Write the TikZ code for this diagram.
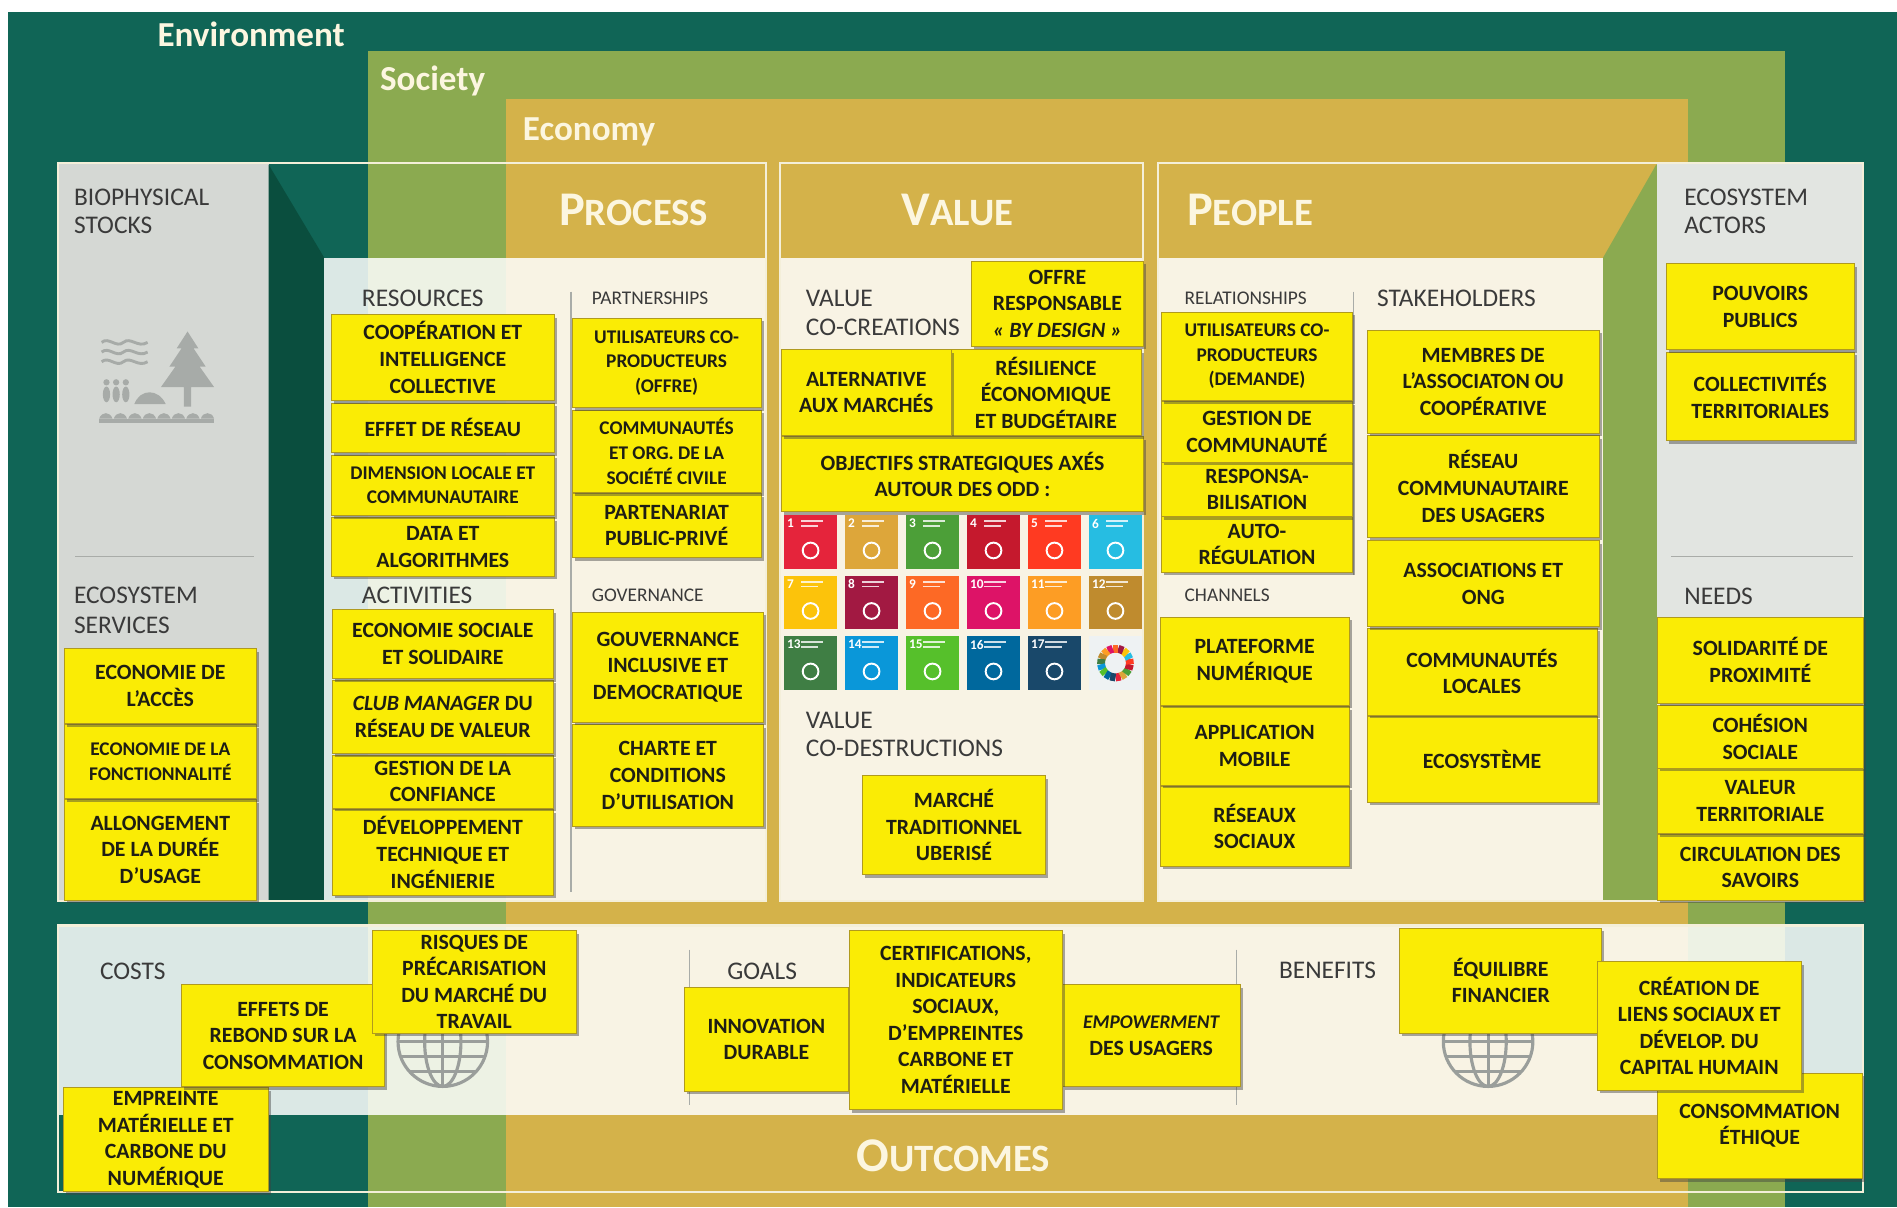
\documentclass[tikz,border=0pt]{standalone}
\usepackage{fontspec}
\setmainfont{Carlito}
\usetikzlibrary{shadows}

% layer and panel colours
\definecolor{envgreen}{HTML}{106556}
\definecolor{envdark}{HTML}{0A4E3E}
\definecolor{socgreen}{HTML}{8BAA50}
\definecolor{econ}{HTML}{D4B24A}
\definecolor{paneline}{HTML}{F4EFD9}
\definecolor{greypanel}{HTML}{D5D8D4}
\definecolor{greypanelr}{HTML}{E2E5E1}
\definecolor{yfill}{HTML}{FAEC05}
\definecolor{yborder}{HTML}{B09A1E}
\definecolor{ytext}{HTML}{1E1E14}
\definecolor{labeltext}{HTML}{3A3A3A}
\definecolor{headtext}{HTML}{FCF6E0}
\definecolor{icongrey}{HTML}{A7ABA8}
\definecolor{globegrey}{HTML}{9A9E9B}
\definecolor{sepgrey}{HTML}{A9ACA8}
% SDG palette
\definecolor{sdg1}{HTML}{E5243B}
\definecolor{sdg2}{HTML}{DDA63A}
\definecolor{sdg3}{HTML}{4C9F38}
\definecolor{sdg4}{HTML}{C5192D}
\definecolor{sdg5}{HTML}{FF3A21}
\definecolor{sdg6}{HTML}{26BDE2}
\definecolor{sdg7}{HTML}{FCC30B}
\definecolor{sdg8}{HTML}{A21942}
\definecolor{sdg9}{HTML}{FD6925}
\definecolor{sdg10}{HTML}{DD1367}
\definecolor{sdg11}{HTML}{FD9D24}
\definecolor{sdg12}{HTML}{BF8B2E}
\definecolor{sdg13}{HTML}{3F7E44}
\definecolor{sdg14}{HTML}{0A97D9}
\definecolor{sdg15}{HTML}{56C02B}
\definecolor{sdg16}{HTML}{00689D}
\definecolor{sdg17}{HTML}{19486A}
\definecolor{wheelbg}{HTML}{EEF2F3}

\tikzset{
  ybox/.style={draw=yborder, line width=0.6pt, fill=yfill, text=ytext, align=center,
    inner sep=0pt, font=\bfseries\fontsize{18}{22}\selectfont,
    drop shadow={shadow xshift=2.2pt, shadow yshift=-2.6pt, opacity=0.45, fill=black!75}},
  ysmall/.style={font=\bfseries\fontsize{16}{20.5}\selectfont},
  seclabel/.style={anchor=base west, inner sep=0pt, text=labeltext, font=\fontsize{21}{25}\selectfont},
  subsec/.style={anchor=base west, inner sep=0pt, text=labeltext, font=\fontsize{16}{19}\selectfont},
  layerlabel/.style={anchor=base west, inner sep=0pt, text=headtext, font=\bfseries\fontsize{29}{34}\selectfont},
  headlabel/.style={anchor=base west, inner sep=0pt, text=headtext, font=\bfseries},
  panelframe/.style={draw=paneline, line width=1.8pt},
  sepline/.style={draw=sepgrey, line width=0.9pt},
  lightpane/.style={fill=white, fill opacity=0.85},
}

% yellow sticky note given by its corners: name, x1, y1, x2, y2, text
\newcommand\ybx[7][]{%
  \node[ybox, minimum width={#5pt-#3pt}, minimum height={#6pt-#4pt}, #1]
    (#2) at ({(#3+#5)/2},{(#4+#6)/2}) {#7};}

% header word set in small capitals
\newcommand\scword[2]{{\fontsize{40}{40}\selectfont #1}{\fontsize{32}{32}\selectfont #2}}

% wire-frame globe
\newcommand\drawglobe[2]{%
  \begin{scope}[shift={(#1,#2)}, globegrey, line width=2.6pt]
    \draw (0,0) circle[radius=37];
    \draw (0,0) ellipse[x radius=15, y radius=37];
    \draw (0,-37) -- (0,37);
    \draw (-35,12) -- (35,12);
    \draw (-28,25) -- (28,25);
    \draw (-37,0) -- (37,0);
  \end{scope}}

\begin{document}
\begin{tikzpicture}[x=1pt,y=-1pt]
\useasboundingbox (0,0) rectangle (1568,998);
\fill[white] (0,0) rectangle (1568,998);

% nested layers: environment, society, economy
\fill[envgreen] (7,10) rectangle (1568,998);
\fill[socgreen] (304,42) rectangle (1475,998);
\fill[econ] (418,82) rectangle (1395,998);

\node[layerlabel] (envlbl) at (130,38.5) {Environment};
\node[layerlabel] (soclbl) at (314,74.5) {Society};
\node[layerlabel] (ecolbl) at (432,116) {Economy};

% upper row: side panels and the three columns
\fill[greypanel] (48,135) rectangle (222,745);
\fill[envdark] (222,136) -- (268,213) -- (268,745) -- (222,745) -- cycle;
\fill[lightpane] (268,213) rectangle (633,745);
\fill[lightpane] (645,213) rectangle (945,745);
\fill[lightpane] (957,213) rectangle (1325,745);
\fill[socgreen] (1369,136) -- (1325,213) -- (1325,745) -- (1370,745) -- (1370,136) -- cycle;
\fill[greypanelr] (1370,135) rectangle (1540,745);

\draw[panelframe] (48,135) -- (633,135) -- (633,745) -- (48,745) -- cycle;
\draw[panelframe] (645,135) rectangle (945,745);
\draw[panelframe] (957,135) rectangle (1540,745);

% lower band: outcomes
\fill[lightpane] (48,765) rectangle (1540,922);
\draw[panelframe] (48,765) rectangle (1540,985);

% column headings
\node[headlabel] (hprocess) at (462,186) {\scword{P}{ROCESS}};
\node[headlabel] (hvalue) at (745,186) {\scword{V}{ALUE}};
\node[headlabel] (hpeople) at (981,186) {\scword{P}{EOPLE}};
\node[headlabel] (houtcomes) at (708,968) {\scword{O}{UTCOMES}};

% separators
\draw[sepline] (62,460) -- (210,460);
\draw[sepline] (1381,460) -- (1532,460);
\draw[sepline] (472,241) -- (472,737);
\draw[sepline] (1119,241) -- (1119,475);
\draw[sepline] (570,785) -- (570,913);
\draw[sepline] (1022,785) -- (1022,913);

% landscape pictogram of the biophysical stocks
\begin{scope}[icongrey]
  \fill (155,274) -- (146,288) -- (150,288) -- (140,303) -- (145,303) -- (133,320)
        -- (152,320) -- (152,336) -- (158,336) -- (158,320) -- (177,320) -- (165,303)
        -- (170,303) -- (160,288) -- (164,288) -- cycle;
  \foreach \wy in {283,291,299}{
    \draw[line width=2.4pt] (84,\wy) .. controls (90,\wy-5) and (96,\wy+5) .. (102,\wy)
          .. controls (108,\wy-5) and (114,\wy+5) .. (122,\wy);}
  \foreach \px in {88,96,104}{
    \fill (\px,316) circle[radius=2.6];
    \fill (\px,326) ellipse[x radius=3, y radius=6.5];}
  \fill (111,334) .. controls (116,321) and (131,321) .. (137,334) -- cycle;
  \foreach \bx in {82,94,106,118,130,142,154,166}{
    \fill (\bx,346) .. controls (\bx+2,340) and (\bx+9,340) .. (\bx+11,346) -- cycle;}
  \fill (82,346) rectangle (177,350);
\end{scope}

% globes of the outcomes band
\drawglobe{366}{861}
\drawglobe{1230}{861}

% SDG tiles
\foreach \n in {1,...,17}{
  \pgfmathtruncatemacro\cc{mod(\n-1,6)}
  \pgfmathtruncatemacro\rr{(\n-1)/6}
  \pgfmathsetmacro\xx{648+\cc*50.4}
  \pgfmathsetmacro\yy{426+\rr*50}
  \fill[sdg\n] (\xx,\yy) rectangle ++(44,44);
  \fill[white, opacity=0.8] (\xx+14,\yy+4) rectangle ++(18,1.6);
  \fill[white, opacity=0.8] (\xx+14,\yy+8) rectangle ++(14,1.6);
  \draw[white, line width=1.6pt] (\xx+22,\yy+29) circle[radius=6.5];
  \node[anchor=north west, inner sep=0pt, text=white, font=\bfseries\fontsize{11}{11}\selectfont]
    (sdgnum\n) at (\xx+2.5,\yy+3) {\n};
}
\fill[wheelbg] (900,526) rectangle ++(44,44);
\foreach \n in {1,...,17}{
  \pgfmathsetmacro\aa{90-(\n-1)*360/17}
  \pgfmathsetmacro\ab{90-\n*360/17}
  \draw[sdg\n, line width=6.5pt] (922,548) ++(\aa:12) arc[start angle=\aa, end angle=\ab, radius=12];
}

% section labels
\node[seclabel] (lbio1) at (61,169.5) {BIOPHYSICAL};
\node[seclabel] (lbio2) at (61,193) {STOCKS};
\node[seclabel] (lsrv1) at (61,498.5) {ECOSYSTEM};
\node[seclabel] (lsrv2) at (61,523.5) {SERVICES};
\node[seclabel] (lact1) at (1392,169.5) {ECOSYSTEM};
\node[seclabel] (lact2) at (1392,193) {ACTORS};
\node[seclabel] (lneeds) at (1392,500) {NEEDS};
\node[seclabel] (lres) at (299,253.5) {RESOURCES};
\node[subsec] (lpart) at (489,252) {PARTNERSHIPS};
\node[seclabel] (lactv) at (299,498.5) {ACTIVITIES};
\node[subsec] (lgov) at (489,497) {GOVERNANCE};
\node[seclabel] (lcc1) at (666,253.5) {VALUE};
\node[seclabel] (lcc2) at (666,277) {CO-CREATIONS};
\node[seclabel] (lcd1) at (666,602) {VALUE};
\node[seclabel] (lcd2) at (666,625.5) {CO-DESTRUCTIONS};
\node[subsec] (lrel) at (979,252) {RELATIONSHIPS};
\node[seclabel] (lstk) at (1138,253.5) {STAKEHOLDERS};
\node[subsec] (lchan) at (979,497) {CHANNELS};
\node[seclabel] (lcost) at (82.5,810) {COSTS};
\node[seclabel] (lgoal) at (601,810) {GOALS};
\node[seclabel] (lbenef) at (1057,808.5) {BENEFITS};

% resources
\ybx{res4}{274}{428}{458}{476}{DATA ET\\ALGORITHMES}
\ybx[ysmall]{res3}{274}{376}{458}{426}{DIMENSION LOCALE ET\\COMMUNAUTAIRE}
\ybx{res2}{274}{333}{458}{374}{EFFET DE RÉSEAU}
\ybx{res1}{274}{260}{458}{331}{COOPÉRATION ET\\INTELLIGENCE\\COLLECTIVE}
% partnerships
\ybx{part3}{473}{408}{629}{461}{PARTENARIAT\\PUBLIC-PRIVÉ}
\ybx[ysmall]{part2}{473}{339}{629}{407}{COMMUNAUTÉS\\ET ORG. DE LA\\SOCIÉTÉ CIVILE}
\ybx[ysmall]{part1}{473}{263}{629}{337}{UTILISATEURS CO-\\PRODUCTEURS\\(OFFRE)}
% activities
\ybx{act4}{275}{669}{457}{740}{DÉVELOPPEMENT\\TECHNIQUE ET\\INGÉNIERIE}
\ybx{act3}{275}{624}{457}{668}{GESTION DE LA\\CONFIANCE}
\ybx{act2}{275}{562}{457}{623}{\textit{CLUB MANAGER} DU\\RÉSEAU DE VALEUR}
\ybx{act1}{275}{504}{457}{561}{ECONOMIE SOCIALE\\ET SOLIDAIRE}
% governance
\ybx{gov2}{473}{599}{631}{683}{CHARTE ET\\CONDITIONS\\D’UTILISATION}
\ybx{gov1}{473}{506}{631}{597}{GOUVERNANCE\\INCLUSIVE ET\\DEMOCRATIQUE}
% ecosystem services
\ybx{srv3}{53}{661}{212}{744}{ALLONGEMENT\\DE LA DURÉE\\D’USAGE}
\ybx[ysmall]{srv2}{53}{599}{212}{660}{ECONOMIE DE LA\\FONCTIONNALITÉ}
\ybx{srv1}{53}{536}{212}{598}{ECONOMIE DE\\L’ACCÈS}
% value
\ybx{val4}{646}{361}{945}{423}{OBJECTIFS STRATEGIQUES AXÉS\\AUTOUR DES ODD :}
\ybx{val3}{786}{289}{943}{360}{RÉSILIENCE\\ÉCONOMIQUE\\ET BUDGÉTAIRE}
\ybx{val2}{646}{289}{786}{360}{ALTERNATIVE\\AUX MARCHÉS}
\ybx{val1}{803}{216}{945}{286}{OFFRE\\RESPONSABLE\\\textit{« BY DESIGN »}}
\ybx{vald}{713}{641}{864}{723}{MARCHÉ\\TRADITIONNEL\\UBERISÉ}
% relationships
\ybx{rel4}{960}{427}{1118}{473}{AUTO-\\RÉGULATION}
\ybx{rel3}{960}{382}{1118}{427}{RESPONSA-\\BILISATION}
\ybx{rel2}{960}{332}{1118}{382}{GESTION DE\\COMMUNAUTÉ}
\ybx[ysmall]{rel1}{960}{258}{1118}{331}{UTILISATEURS CO-\\PRODUCTEURS\\(DEMANDE)}
% stakeholders
\ybx{stk5}{1130}{592}{1320}{663}{ECOSYSTÈME}
\ybx{stk4}{1130}{519}{1320}{591}{COMMUNAUTÉS\\LOCALES}
\ybx{stk3}{1130}{447}{1322}{518}{ASSOCIATIONS ET\\ONG}
\ybx{stk2}{1130}{360}{1322}{444}{RÉSEAU\\COMMUNAUTAIRE\\DES USAGERS}
\ybx{stk1}{1130}{273}{1322}{358}{MEMBRES DE\\L’ASSOCIATON OU\\COOPÉRATIVE}
% channels
\ybx{chn3}{959}{650}{1115}{716}{RÉSEAUX\\SOCIAUX}
\ybx{chn2}{959}{584}{1115}{649}{APPLICATION\\MOBILE}
\ybx{chn1}{959}{510}{1115}{583}{PLATEFORME\\NUMÉRIQUE}
% ecosystem actors
\ybx{ea2}{1377}{291}{1533}{364}{COLLECTIVITÉS\\TERRITORIALES}
\ybx{ea1}{1377}{218}{1533}{289}{POUVOIRS\\PUBLICS}
% needs
\ybx{need4}{1370}{690}{1540}{744}{CIRCULATION DES\\SAVOIRS}
\ybx{need3}{1370}{635}{1540}{689}{VALEUR\\TERRITORIALE}
\ybx{need2}{1370}{583}{1540}{635}{COHÉSION\\SOCIALE}
\ybx{need1}{1370}{510}{1540}{581}{SOLIDARITÉ DE\\PROXIMITÉ}
% costs
\ybx{cost3}{52}{899}{222}{985}{EMPREINTE\\MATÉRIELLE ET\\CARBONE DU\\NUMÉRIQUE}
\ybx{cost2}{150}{814}{318}{898}{EFFETS DE\\REBOND SUR LA\\CONSOMMATION}
\ybx{cost1}{308}{769}{476}{854}{RISQUES DE\\PRÉCARISATION\\DU MARCHÉ DU\\TRAVAIL}
% goals
\ybx{goal1}{566}{816}{701}{902}{INNOVATION\\DURABLE}
\ybx{goal3}{878}{814}{1025}{898}{{\fontsize{16}{20}\selectfont\itshape EMPOWERMENT}\\DES USAGERS}
\ybx{goal2}{702}{769}{878}{917}{CERTIFICATIONS,\\INDICATEURS\\SOCIAUX,\\D’EMPREINTES\\CARBONE ET\\MATÉRIELLE}
% benefits
\ybx{ben1}{1157}{767}{1324}{854}{ÉQUILIBRE\\FINANCIER}
\ybx{ben3}{1370}{887}{1539}{974}{CONSOMMATION\\ÉTHIQUE}
\ybx{ben2}{1320}{795}{1489}{901}{CRÉATION DE\\LIENS SOCIAUX ET\\DÉVELOP. DU\\CAPITAL HUMAIN}

\end{tikzpicture}
\end{document}
